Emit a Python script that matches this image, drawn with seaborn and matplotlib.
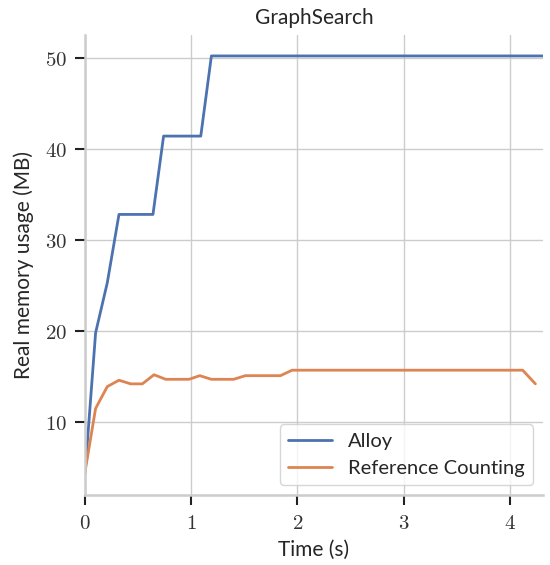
import matplotlib
matplotlib.use("Agg")
import matplotlib.pyplot as plt
import seaborn as sns
import pandas as pd
from matplotlib.ticker import FuncFormatter

# Data
alloy_time = [0, 0.10, 0.21, 0.32, 0.64, 0.74, 1.09, 1.19, 4.31]
alloy_mem = [4.3, 19.8, 25.3, 32.8, 32.8, 41.4, 41.4, 50.2, 50.2]
rc_time = [0, 0.10, 0.21, 0.32, 0.43, 0.54, 0.65, 0.76, 0.98, 1.08, 1.19,
           1.40, 1.51, 1.84, 1.95, 4.12, 4.24]
rc_mem = [4.5, 11.5, 13.9, 14.6, 14.2, 14.2, 15.2, 14.7, 14.7, 15.1, 14.7,
          14.7, 15.1, 15.1, 15.7, 15.7, 14.2]
series_names = ["Alloy", "Reference Counting"]
title = "GraphSearch"
x_ticks = [0, 1, 2, 3, 4]
y_ticks = [10, 20, 30, 40, 50]

df = pd.concat([
    pd.DataFrame({"Time": alloy_time, "Mem": alloy_mem, "Impl": series_names[0]}),
    pd.DataFrame({"Time": rc_time, "Mem": rc_mem, "Impl": series_names[1]}),
])

sns.set_theme(style="whitegrid", context="notebook")
plt.rcParams["font.family"] = ["Lato", "DejaVu Sans"]
plt.rcParams["mathtext.fontset"] = "cm"

fig, ax = plt.subplots(figsize=(5.5, 5.65), dpi=100)
fig.subplots_adjust(left=0.1545, right=0.987, top=0.938, bottom=0.124)

sns.lineplot(data=df, x="Time", y="Mem", hue="Impl", ax=ax, linewidth=2,
             estimator=None, sort=False)

ax.set_xlim(0, max(alloy_time))
ax.set_xticks(x_ticks)
ax.set_yticks(y_ticks)
ax.xaxis.set_major_formatter(FuncFormatter(lambda v, p: r"$%d$" % v))
ax.yaxis.set_major_formatter(FuncFormatter(lambda v, p: r"$%d$" % v))
ax.tick_params(axis="both", which="major", bottom=True, left=True,
               length=7, width=1.5, color="#222222", labelsize=15, pad=6,
               labelcolor="#333333")

sns.despine(ax=ax)
for s in ["left", "bottom"]:
    ax.spines[s].set_color("#cccccc")
    ax.spines[s].set_linewidth(1.8)

ax.set_xlabel("Time (s)", fontsize=15, labelpad=5)
ax.set_ylabel("Real memory usage (MB)", fontsize=15, labelpad=8)
ax.set_title(title, fontsize=15, pad=8)

leg = ax.legend(loc="lower right", fontsize=14.5, frameon=True, title=None,
                handlelength=2.2)

fig.savefig("out.png", dpi=100)
